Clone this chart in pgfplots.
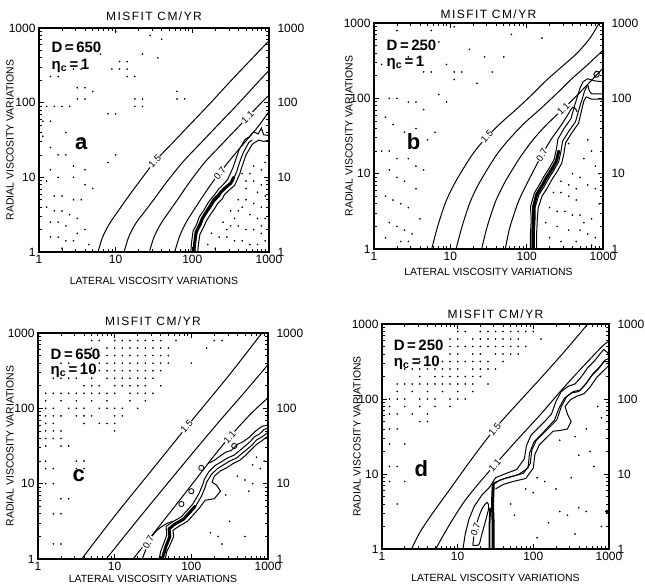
\documentclass[border=0pt]{standalone}
\usepackage{fontspec}
\setmainfont{Liberation Sans}
\newfontfamily\titlefont[LetterSpace=12]{Liberation Sans}
\usepackage{pgfplots}
\pgfplotsset{compat=1.18}

\pgfplotsset{
  ylab/.style={every axis y label/.style={at={(axis description cs:0,0.5)}, xshift=#1, rotate=90, anchor=center, font=\fontsize{10.4}{11}\selectfont}},
  xlab/.style={every axis x label/.style={at={(axis description cs:0.5,0)}, anchor=center, yshift=#1, font=\fontsize{10.4}{11}\selectfont}},
  tlab/.style={every axis title/.style={at={(axis description cs:0.5,1)}, anchor=center, yshift=#1, font=\fontsize{12}{12}\selectfont}},
  panel/.style={
    scale only axis, xmin=0, xmax=3, ymin=0, ymax=3,
    xtick={0,1,2,3}, ytick={0,1,2,3},
    xticklabels={1,10,100,1000}, yticklabels={1,10,100,1000},
    minor xtick={0.301,0.477,0.602,0.699,0.778,0.845,0.903,0.954,1.301,1.477,1.602,1.699,1.778,1.845,1.903,1.954,2.301,2.477,2.602,2.699,2.778,2.845,2.903,2.954},
    minor ytick={0.301,0.477,0.602,0.699,0.778,0.845,0.903,0.954,1.301,1.477,1.602,1.699,1.778,1.845,1.903,1.954,2.301,2.477,2.602,2.699,2.778,2.845,2.903,2.954},
    tick align=inside, xtick pos=both, ytick pos=both,
    major tick length=5pt, minor tick length=3pt,
    every tick/.style={black, line width=0.7pt},
    axis line style={line width=1.3pt},
    /pgf/number format/assume math mode=true,
    tick label style={font=\fontsize{12}{12}\selectfont},
    title={\titlefont MISFIT CM/YR},
    xlabel={LATERAL VISCOSITY VARIATIONS},
    ylabel={RADIAL VISCOSITY VARIATIONS},
    ylab=-29pt, xlab=-29pt, tlab=12pt,
  },
  rlab/.style={
    scale only axis, xmin=0, xmax=3, ymin=0, ymax=3,
    axis line style={draw=none}, xtick=\empty, ytick={0,1,2,3},
    yticklabels={1,10,100,1000}, yticklabel pos=right, major tick length=0pt,
    /pgf/number format/assume math mode=true,
    tick label style={font=\fontsize{12}{12}\selectfont},
    yticklabel style={xshift=5pt},
  },
  cl/.style={black, line width=1pt, smooth, tension=0.55},
  bl/.style={black, line width=1pt},
  thick bundle/.style={black, line width=3pt, line join=round, line cap=round},
  dots/.style={only marks, mark=*, mark size=0.6pt, black},
}
\tikzset{
  lab/.style={fill=white, inner sep=0.6pt, font=\fontsize{9.5}{10}\selectfont},
  dlab/.style={anchor=west, font=\bfseries\fontsize{15}{15}\selectfont},
  plab/.style={font=\bfseries\fontsize{22}{22}\selectfont},
}

\begin{document}
\begin{tikzpicture}[x=1pt,y=1pt]
\path[use as bounding box] (0,0) rectangle (645,587);

% ---------------- panel a : D=650, eta=1 ----------------
\begin{axis}[panel, at={(39pt,335pt)}, anchor=south west, width=230pt, height=224pt]
\addplot[dots] coordinates {(0.15,2.35)(0.25,2.35)(0.45,2.45)(0.55,2.45)(0.95,2.45)(1.05,2.45)(1.15,2.45)(1.05,2.55)(1.15,2.55)(1.25,2.35)(1.15,2.35)(1.55,2.6)(1.35,2.65)(1.6,2.85)(1.45,2.9)(0.5,2.2)(0.6,2.2)(0.7,2.15)(0.5,2.05)(0.6,2.05)(0.1,1.95)(0.2,1.95)(0.3,1.95)(0.4,1.95)(1.25,2.05)(1.35,2.05)(1.25,1.95)(1.35,1.95)(1.8,2.15)(1.8,2.05)(1.9,2.05)(0.9,1.85)(1.0,1.85)(0.05,1.75)(0.15,1.75)(0.05,1.55)(0.15,1.4)(0.25,1.3)(0.35,1.3)(0.45,1.15)(0.6,1.1)(0.15,1.1)(0.25,1.0)(0.1,0.95)(0.6,0.9)(0.7,0.85)(0.2,0.75)(0.3,0.75)(0.45,0.7)(0.55,0.7)(0.1,0.6)(0.2,0.55)(0.3,0.55)(0.4,0.5)(0.5,0.45)(0.15,0.4)(0.25,0.4)(0.35,0.35)(0.6,0.3)(0.5,0.25)(0.15,0.2)(0.25,0.2)(0.35,0.15)(0.45,0.15)(0.65,0.1)(0.9,1.2)(1.0,1.3)(0.35,2.75)(0.55,2.8)(1.0,2.95)(0.8,2.65)(0.35,1.6)(0.55,1.5)(0.45,1.0)(0.3,0.05)
(2.65,1.05)(2.75,1.05)(2.7,0.95)(2.8,0.95)(2.9,0.9)(2.7,0.85)(2.85,0.8)(2.95,0.75)(2.6,0.7)(2.7,0.7)(2.8,0.65)(2.9,0.6)(2.5,0.55)(2.6,0.55)(2.75,0.5)(2.85,0.45)(2.95,0.45)(2.4,0.4)(2.5,0.35)(2.6,0.35)(2.7,0.3)(2.8,0.3)(2.9,0.25)(2.25,0.25)(2.35,0.2)(2.45,0.2)(2.55,0.15)(2.65,0.15)(2.75,0.1)(2.85,0.1)(2.2,0.1)(2.95,0.15)(2.9,1.1)(2.95,1.2)(2.8,1.15)(2.65,0.6)(2.55,0.45)(2.45,0.3)(2.3,0.05)(2.9,0.35)};
% contour lines
\addplot[cl] coordinates {(0.77,0)(0.83,0.2)(0.92,0.38)(1.02,0.53)(1.15,0.72)(1.3,0.93)(1.51,1.21)(1.75,1.47)(2.0,1.74)(2.25,2.01)(2.5,2.29)(2.75,2.56)(3.0,2.83)};
\addplot[cl] coordinates {(1.11,0)(1.17,0.2)(1.26,0.38)(1.37,0.53)(1.51,0.72)(1.66,0.93)(1.88,1.21)(2.12,1.47)(2.37,1.74)(2.62,2.01)(2.87,2.29)(3.0,2.43)};
\addplot[cl] coordinates {(1.44,0)(1.5,0.2)(1.59,0.38)(1.69,0.53)(1.82,0.72)(1.96,0.93)(2.17,1.21)(2.41,1.47)(2.66,1.74)(2.91,2.01)(3.0,2.10)};
\addplot[cl] coordinates {(1.77,0)(1.83,0.2)(1.91,0.38)(2.0,0.53)(2.12,0.72)(2.26,0.93)(2.45,1.18)(2.66,1.44)(2.85,1.67)(3.0,1.88)};
% steep gradient band
\addplot[thick bundle] coordinates {(2.02,0)(2.03,0.12)(2.05,0.27)(2.1,0.37)(2.13,0.45)(2.19,0.55)(2.24,0.63)(2.28,0.7)(2.34,0.76)(2.37,0.8)(2.43,0.86)(2.5,0.92)(2.54,1.0)};
\addplot[bl] coordinates {(1.98,0)(1.99,0.13)(2.01,0.28)(2.06,0.38)(2.09,0.47)(2.15,0.56)(2.2,0.65)(2.25,0.72)(2.3,0.78)(2.34,0.84)(2.4,0.9)(2.46,0.97)(2.5,1.06)(2.53,1.13)(2.55,1.19)(2.58,1.28)(2.61,1.37)(2.65,1.44)(2.69,1.51)(2.74,1.54)};
\addplot[bl] coordinates {(2.03,0)(2.04,0.12)(2.06,0.26)(2.11,0.36)(2.14,0.44)(2.2,0.54)(2.25,0.61)(2.29,0.68)(2.35,0.74)(2.38,0.8)(2.44,0.86)(2.51,0.92)(2.55,1.01)(2.58,1.08)(2.6,1.15)(2.63,1.24)(2.66,1.32)(2.7,1.4)(2.74,1.47)(2.78,1.5)};
\addplot[bl] coordinates {(2.07,0)(2.08,0.11)(2.1,0.24)(2.15,0.34)(2.18,0.41)(2.24,0.51)(2.29,0.58)(2.33,0.65)(2.39,0.71)(2.42,0.77)(2.48,0.83)(2.55,0.89)(2.59,0.98)(2.62,1.05)(2.64,1.12)(2.67,1.21)(2.7,1.3)(2.74,1.37)(2.78,1.44)(2.82,1.47)};
\addplot[bl] coordinates {(2.74,1.54)(2.8,1.61)(2.86,1.58)(2.9,1.66)(2.93,1.57)(3.0,1.56)};
\addplot[bl] coordinates {(2.82,1.47)(2.87,1.5)(2.93,1.48)(3.0,1.5)};
\node[lab, rotate=46] at (axis cs:1.51,1.21) {1.5};
\node[lab, rotate=45] at (axis cs:2.72,1.80) {1.1};
\node[lab, rotate=52] at (axis cs:2.36,1.05) {0.7};
\node[dlab] at (axis cs:0.12,2.74) {D\,=\,650};
\node[dlab] at (axis cs:0.12,2.49) {η\textsubscript{c}\,=\,1};
\node[plab] at (axis cs:0.55,1.45) {a};
\end{axis}
\begin{axis}[rlab, at={(39pt,335pt)}, anchor=south west, width=230pt, height=224pt]
\end{axis}

% ---------------- panel b : D=250, eta=1 ----------------
\begin{axis}[panel, at={(374pt,338pt)}, anchor=south west, width=229pt, height=226pt,
  xlab=-23pt, tlab=9pt, ylab=-25pt]
\addplot[dots] coordinates {(0.3,2.9)(0.45,2.55)(0.6,2.65)(0.75,2.9)(0.85,2.75)(1.05,2.95)(0.95,2.45)(1.05,2.35)(1.15,2.35)(1.05,2.25)(1.35,2.2)(1.45,2.55)(1.7,2.55)(1.8,2.85)(2.2,2.8)(0.2,2.0)(0.3,2.0)(0.45,1.95)(0.55,1.95)(0.65,1.85)(0.85,2.05)(0.95,1.95)(0.15,1.75)(0.25,1.65)(0.4,1.55)(0.55,1.6)(0.7,1.45)(0.8,1.55)(0.1,1.3)(0.2,1.3)(0.3,1.2)(0.45,1.2)(0.55,1.1)(0.2,1.05)(0.3,0.95)(0.4,0.9)(0.55,0.8)(0.15,0.7)(0.25,0.65)(0.35,0.6)(0.45,0.55)(0.6,0.4)(0.2,0.35)(0.3,0.3)(0.4,0.25)(0.5,0.2)(0.15,0.15)(0.35,0.1)(0.45,0.1)(0.65,2.35)(0.75,2.35)(1.25,2.65)(1.55,2.35)(0.1,2.45)(0.65,1.05)
(2.55,1.4)(2.8,1.45)(2.85,1.3)(2.75,1.2)(2.9,1.1)(2.6,1.0)(2.7,0.95)(2.45,0.9)(2.55,0.85)(2.8,0.85)(2.9,0.8)(2.35,0.75)(2.45,0.75)(2.55,0.7)(2.65,0.65)(2.95,0.6)(2.3,0.55)(2.4,0.5)(2.5,0.5)(2.6,0.45)(2.85,0.4)(2.25,0.35)(2.4,0.3)(2.55,0.25)(2.7,0.25)(2.8,0.2)(2.9,0.15)(2.3,0.15)(2.45,0.1)(2.65,0.1)(2.85,0.05)(2.7,0.45)(2.75,0.35)(2.65,0.8)(2.95,1.0)};
\addplot[cl] coordinates {(0.756,0)(0.82,0.25)(0.88,0.45)(0.95,0.65)(1.04,0.84)(1.13,1.0)(1.3,1.27)(1.48,1.49)(1.67,1.68)(1.87,1.86)(2.07,2.05)(2.26,2.24)(2.46,2.42)(2.66,2.6)(2.83,2.8)(2.95,3.0)};
\addplot[cl] coordinates {(1.075,0)(1.14,0.25)(1.2,0.45)(1.27,0.65)(1.36,0.84)(1.45,1.0)(1.62,1.27)(1.8,1.49)(1.98,1.68)(2.18,1.86)(2.38,2.05)(2.57,2.24)(2.77,2.42)(2.96,2.6)(3.0,2.64)};
\addplot[cl] coordinates {(1.41,0)(1.47,0.25)(1.53,0.45)(1.6,0.65)(1.69,0.84)(1.78,1.0)(1.93,1.24)(2.1,1.47)(2.28,1.67)(2.48,1.86)(2.67,2.05)(2.85,2.24)(3.0,2.4)};
\addplot[cl] coordinates {(1.72,0)(1.77,0.25)(1.83,0.45)(1.9,0.65)(1.99,0.84)(2.07,1.0)(2.2,1.25)(2.33,1.47)(2.45,1.64)(2.55,1.8)(2.6,1.88)(2.64,1.86)(2.66,1.82)};
\addplot[thick bundle] coordinates {(2.08,0)(2.08,0.2)(2.09,0.4)(2.09,0.56)(2.13,0.72)(2.2,0.84)(2.26,0.95)(2.33,1.06)(2.39,1.17)(2.42,1.3)};
\addplot[bl] coordinates {(2.05,0)(2.05,0.2)(2.06,0.4)(2.05,0.56)(2.1,0.74)(2.17,0.86)(2.23,0.97)(2.3,1.08)(2.36,1.19)(2.39,1.33)(2.41,1.46)(2.49,1.6)(2.58,1.73)(2.63,1.91)(2.67,2.04)(2.7,2.14)(2.74,2.22)};
\addplot[bl] coordinates {(2.1,0)(2.1,0.2)(2.11,0.4)(2.11,0.55)(2.16,0.72)(2.23,0.83)(2.29,0.94)(2.36,1.05)(2.42,1.16)(2.45,1.3)(2.47,1.43)(2.55,1.56)(2.64,1.69)(2.69,1.87)(2.73,2.0)(2.76,2.1)(2.8,2.18)};
\addplot[bl] coordinates {(2.13,0)(2.13,0.2)(2.14,0.4)(2.15,0.54)(2.2,0.7)(2.27,0.81)(2.33,0.92)(2.4,1.03)(2.46,1.14)(2.49,1.28)(2.51,1.41)(2.59,1.54)(2.68,1.67)(2.72,1.84)(2.75,1.97)(2.78,2.02)};
\addplot[bl] coordinates {(2.74,2.22)(2.8,2.26)(2.9,2.23)(3.0,2.22)};
\addplot[bl] coordinates {(2.78,2.02)(2.85,1.99)(3.0,1.99)};
\addplot[bl] coordinates {(2.8,2.18)(2.82,2.1)(2.85,2.06)(3.0,2.06)};
\addplot[bl, smooth] coordinates {(2.88,2.32)(2.91,2.36)(2.95,2.34)(2.94,2.29)(2.9,2.28)(2.88,2.32)};
\node[lab, rotate=47] at (axis cs:1.48,1.49) {1.5};
\node[lab, rotate=44] at (axis cs:2.48,1.86) {1.1};
\node[lab, rotate=60] at (axis cs:2.2,1.25) {0.7};
\node[dlab] at (axis cs:0.12,2.71) {D\,=\,250};
\node[dlab] at (axis cs:0.12,2.47) {η\textsubscript{c}\,=\,1};
\node[plab] at (axis cs:0.52,1.43) {b};
\end{axis}
\begin{axis}[rlab, at={(374pt,338pt)}, anchor=south west, width=229pt, height=226pt]
\end{axis}

% ---------------- panel c : D=650, eta=10 ----------------
\begin{axis}[panel, at={(38pt,28pt)}, anchor=south west, width=230pt, height=226pt,
  xlab=-20pt, ylab=-28pt]
\addplot[dots] coordinates {(0.7,2.9)(0.8,2.9)(1.0,2.9)(1.1,2.9)(1.2,2.9)(1.3,2.9)(1.4,2.9)(1.5,2.9)(1.6,2.9)(1.8,2.9)(2.3,2.9)(2.4,2.9)
(0.7,2.8)(0.9,2.8)(1.0,2.8)(1.1,2.8)(1.2,2.8)(1.3,2.8)(1.4,2.8)(1.5,2.8)(1.6,2.8)(1.7,2.8)(2.2,2.8)
(0.7,2.7)(0.8,2.7)(0.9,2.7)(1.0,2.7)(1.1,2.7)(1.2,2.7)(1.3,2.7)(1.4,2.7)(1.5,2.7)(1.6,2.7)(1.7,2.7)
(0.3,2.6)(0.4,2.6)(0.6,2.6)(0.8,2.6)(0.9,2.6)(1.0,2.6)(1.1,2.6)(1.2,2.6)(1.3,2.6)(1.4,2.6)(1.5,2.6)(1.6,2.6)(1.7,2.6)(2.0,2.6)
(0.6,2.5)(0.7,2.5)(0.8,2.5)(0.9,2.5)(1.0,2.5)(1.1,2.5)(1.2,2.5)(1.3,2.5)(1.4,2.5)(1.5,2.5)(1.6,2.5)
(0.2,2.4)(0.3,2.4)(0.4,2.4)(0.5,2.4)(0.7,2.4)(0.9,2.4)(1.0,2.4)(1.1,2.4)(1.2,2.4)(1.3,2.4)(1.4,2.4)(1.5,2.4)
(0.6,2.3)(0.7,2.3)(0.8,2.3)(1.0,2.3)(1.1,2.3)(1.2,2.3)(1.3,2.3)(1.4,2.3)(1.6,2.3)
(0.1,2.2)(0.2,2.2)(0.3,2.2)(0.4,2.2)(0.5,2.2)(0.6,2.2)(0.7,2.2)(0.8,2.2)(0.9,2.2)(1.0,2.2)(1.2,2.2)(1.3,2.2)(1.4,2.2)(1.5,2.2)
(0.1,2.1)(0.3,2.1)(0.5,2.1)(0.7,2.1)(0.9,2.1)(1.2,2.1)(1.4,2.1)
(0.1,2.0)(0.2,2.0)(0.4,2.0)(0.5,2.0)(0.6,2.0)(0.8,2.0)(0.9,2.0)(1.0,2.0)(1.1,2.0)(1.3,2.0)
(0.1,1.9)(0.2,1.9)(0.3,1.9)(0.5,1.9)(0.6,1.9)(0.7,1.9)(1.0,1.9)(1.1,1.9)
(0.1,1.8)(0.2,1.8)(0.6,1.8)(0.8,1.8)(0.9,1.8)(1.0,1.8)
(0.1,1.7)(0.2,1.7)(0.3,1.7)(1.0,1.7)(0.1,1.6)(0.2,1.6)(0.3,1.6)(0.1,1.5)(0.3,1.5)(0.4,1.5)
(0.1,1.3)(0.5,1.3)(0.6,1.3)(0.1,1.2)(0.2,1.2)(0.5,1.2)(0.6,1.2)(0.1,1.0)(0.2,1.0)(0.3,0.8)(0.4,0.8)(0.2,0.6)(0.3,0.6)(0.2,0.2)(0.3,0.2)
(2.6,1.1)(2.7,1.05)(2.8,1.0)(2.75,0.9)(2.9,1.2)(2.95,1.3)(2.85,1.35)(2.45,0.85)(2.5,0.5)(2.25,0.35)(2.35,0.3)(2.7,0.3)(2.4,0.2)(2.8,1.25)};
\addplot[cl] coordinates {(0.57,0)(1.0,0.57)(1.5,1.2)(2.0,1.83)(2.5,2.45)(2.92,3.0)};
\addplot[cl] coordinates {(0.89,0)(1.3,0.52)(1.8,1.14)(2.3,1.75)(2.7,2.22)(3.0,2.58)};
\addplot[cl] coordinates {(1.24,0)(1.6,0.46)(2.0,0.98)(2.4,1.5)(2.75,1.9)(3.0,2.14)};
\addplot[cl] coordinates {(1.36,0)(1.42,0.16)(1.5,0.32)(1.6,0.42)(1.7,0.48)(1.76,0.5)};
\addplot[thick bundle] coordinates {(1.62,0)(1.65,0.1)(1.67,0.17)(1.72,0.3)(1.71,0.4)(1.78,0.46)(1.9,0.53)(1.97,0.61)(2.05,0.7)};
\addplot[bl] coordinates {(1.61,0)(1.64,0.1)(1.66,0.16)(1.72,0.3)(1.7,0.4)(1.78,0.45)(1.9,0.52)(1.97,0.6)(2.05,0.69)(2.13,0.83)(2.18,0.95)(2.2,1.02)(2.26,1.12)(2.34,1.2)(2.42,1.25)(2.5,1.3)(2.59,1.34)(2.66,1.4)(2.72,1.45)(2.8,1.52)(2.85,1.58)(2.92,1.62)(3.0,1.68)};
\addplot[bl] coordinates {(1.66,0)(1.68,0.1)(1.71,0.16)(1.77,0.3)(1.76,0.38)(1.83,0.43)(1.95,0.5)(2.02,0.58)(2.1,0.67)(2.18,0.78)(2.3,0.8)(2.38,0.9)(2.33,0.98)(2.27,1.02)(2.3,1.1)(2.38,1.17)(2.46,1.21)(2.55,1.27)(2.63,1.31)(2.7,1.37)(2.77,1.44)(2.85,1.52)(2.92,1.57)(3.0,1.63)};
\addplot[bl] coordinates {(1.58,0)(1.6,0.1)(1.63,0.18)(1.68,0.32)(1.67,0.43)(1.75,0.49)(1.87,0.56)(1.94,0.64)(2.02,0.73)(2.1,0.87)(2.15,0.99)(2.17,1.06)(2.23,1.16)(2.31,1.24)(2.39,1.29)(2.47,1.34)(2.56,1.38)(2.63,1.44)(2.69,1.49)(2.77,1.56)(2.82,1.62)(2.89,1.66)(2.95,1.72)(3.0,1.74)};
\addplot[bl] coordinates {(2.22,1.27)(2.3,1.31)(2.38,1.37)(2.45,1.42)(2.52,1.44)(2.6,1.52)(2.68,1.56)(2.76,1.62)(2.84,1.7)(2.92,1.76)(3.0,1.78)};
\addplot[only marks, mark=o, mark size=2.6pt, mark options={line width=0.8pt}, black] coordinates {(1.87,0.73)(2.0,0.9)(2.13,1.21)(2.56,1.5)};
\node[lab, rotate=47] at (axis cs:1.94,1.76) {1.5};
\node[lab, rotate=47] at (axis cs:2.5,1.62) {1.1};
\node[lab, rotate=62] at (axis cs:1.44,0.22) {0.7};
\node[dlab] at (axis cs:0.12,2.72) {D\,=\,650};
\node[dlab] at (axis cs:0.12,2.5) {η\textsubscript{c}\,=\,10};
\node[plab] at (axis cs:0.53,1.1) {c};
\end{axis}
\begin{axis}[rlab, at={(38pt,28pt)}, anchor=south west, width=230pt, height=226pt]
\end{axis}

% ---------------- panel d : D=250, eta=10 ----------------
\begin{axis}[panel, at={(382pt,38pt)}, anchor=south west, width=227pt, height=225pt,
  tlab=10pt, ylab=-25pt]
\addplot[dots] coordinates {(1.0,2.9)(1.1,2.9)(1.3,2.9)(1.4,2.9)(1.5,2.9)(1.6,2.9)(1.7,2.9)(1.8,2.9)(1.9,2.9)(2.0,2.9)
(0.9,2.8)(1.0,2.8)(1.2,2.8)(1.3,2.8)(1.4,2.8)(1.5,2.8)(1.6,2.8)(1.7,2.8)(1.8,2.8)(2.1,2.8)
(0.9,2.7)(1.0,2.7)(1.1,2.7)(1.2,2.7)(1.3,2.7)(1.4,2.7)(1.5,2.7)(1.6,2.7)(1.7,2.7)(1.8,2.7)(1.9,2.7)
(0.9,2.6)(1.0,2.6)(1.2,2.6)(1.3,2.6)(1.5,2.6)(1.6,2.6)(1.7,2.6)(1.8,2.6)
(0.5,2.5)(0.6,2.5)(0.8,2.5)(0.9,2.5)(1.0,2.5)(1.1,2.5)(1.2,2.5)(1.3,2.5)(1.4,2.5)(1.6,2.5)
(0.3,2.4)(0.4,2.4)(0.5,2.4)(0.6,2.4)(0.7,2.4)(0.8,2.4)(0.9,2.4)(1.0,2.4)(1.2,2.4)(1.3,2.4)(1.4,2.4)(1.5,2.4)
(0.5,2.3)(0.7,2.3)(0.8,2.3)(0.9,2.3)(1.0,2.3)(1.1,2.3)(1.2,2.3)(1.3,2.3)
(0.2,2.2)(0.3,2.2)(0.4,2.2)(0.5,2.2)(0.6,2.2)(0.7,2.2)(0.8,2.2)(0.9,2.2)(1.0,2.2)(1.1,2.2)(1.2,2.2)(1.4,2.2)
(0.2,2.1)(0.4,2.1)(0.6,2.1)(0.8,2.1)(1.0,2.1)(1.2,2.1)
(0.1,2.0)(0.2,2.0)(0.3,2.0)(0.5,2.0)(0.6,2.0)(0.7,2.0)(0.9,2.0)(1.0,2.0)(1.1,2.0)
(0.1,1.9)(0.3,1.9)(0.5,1.9)(0.7,1.9)(0.9,1.9)(0.1,1.8)(0.2,1.8)(0.4,1.8)(0.6,1.8)(0.5,1.7)(0.6,1.7)
(0.1,1.6)(0.2,1.6)(0.1,1.4)(0.3,1.4)(0.1,1.1)(0.2,1.1)(0.1,0.9)(0.3,0.9)(0.2,0.6)
(2.35,1.45)(2.55,1.5)(2.7,1.6)(2.85,1.9)(2.9,1.75)(2.6,1.25)(2.75,1.3)(2.05,0.95)(2.15,0.9)(1.9,0.8)(2.0,0.75)(2.3,0.8)(2.5,0.95)(2.8,1.1)(2.35,0.5)(2.45,0.45)(2.6,0.55)(2.7,0.5)(2.2,0.35)(2.9,0.3)(2.05,0.15)(2.55,0.2)(1.7,0.6)(1.75,0.45)};
\addplot[only marks, mark=*, mark size=1.6pt, black] coordinates {(2.97,0.5)};
\addplot[cl] coordinates {(0.39,0)(0.5,0.22)(0.65,0.45)(0.9,0.8)(1.2,1.22)(1.49,1.6)(1.8,1.95)(2.1,2.28)(2.4,2.62)(2.72,3.0)};
\addplot[cl] coordinates {(0.71,0)(0.82,0.2)(0.95,0.42)(1.1,0.65)(1.3,0.9)(1.49,1.12)(1.8,1.47)(2.1,1.8)(2.4,2.15)(2.7,2.48)(2.92,2.71)(3.0,2.77)};
\addplot[bl] coordinates {(1.07,0)(1.1,0.2)(1.15,0.4)(1.22,0.57)(1.32,0.72)(1.42,0.82)(1.5,0.95)(1.62,1.0)(1.78,1.06)(1.88,1.2)(1.91,1.38)(1.97,1.52)(2.06,1.61)(2.15,1.7)(2.24,1.8)(2.3,1.97)(2.37,2.1)(2.46,2.17)(2.55,2.2)(2.63,2.29)(2.72,2.42)(2.81,2.51)(2.88,2.6)(2.93,2.66)(2.98,2.62)(3.0,2.58)};
\addplot[bl, smooth] coordinates {(1.2,0.05)(1.22,0.2)(1.27,0.4)(1.33,0.55)(1.39,0.62)(1.41,0.55)(1.37,0.38)(1.32,0.2)(1.28,0.06)(1.2,0.05)};
\addplot[thick bundle] coordinates {(1.47,0)(1.47,0.3)(1.46,0.6)(1.47,0.86)};
\addplot[black, line width=1.8pt] coordinates {(1.42,0)(1.42,0.3)(1.43,0.55)};
\addplot[bl] coordinates {(1.47,0.86)(1.56,0.92)(1.69,0.96)(1.87,1.01)(1.96,1.14)(1.98,1.32)(2.04,1.45)(2.13,1.54)(2.22,1.63)(2.31,1.72)(2.37,1.9)(2.44,2.03)(2.53,2.1)(2.62,2.12)(2.70,2.21)(2.79,2.34)(2.88,2.43)(2.95,2.52)(3.0,2.54)};
\addplot[bl] coordinates {(1.5,0.8)(1.6,0.86)(1.73,0.9)(1.9,0.94)(2.0,1.08)(2.02,1.26)(2.08,1.39)(2.17,1.48)(2.26,1.57)(2.35,1.58)(2.45,1.6)(2.5,1.7)(2.45,1.8)(2.42,1.9)(2.49,1.99)(2.58,2.04)(2.67,2.07)(2.75,2.16)(2.84,2.29)(2.92,2.37)(3.0,2.45)};
\addplot[bl] coordinates {(1.47,0.88)(1.52,0.9)(1.62,0.94)(1.8,0.99)(1.93,1.08)(1.95,1.28)(2.01,1.43)(2.1,1.52)(2.19,1.62)(2.28,1.72)(2.34,1.88)(2.41,2.01)(2.5,2.08)(2.6,2.1)(2.68,2.18)(2.77,2.31)(2.86,2.4)(2.93,2.5)(3.0,2.5)};
\node[lab, rotate=50] at (axis cs:1.49,1.6) {1.5};
\node[lab, rotate=49] at (axis cs:1.49,1.12) {1.1};
\node[lab, rotate=70] at (axis cs:1.235,0.26) {0.7};
\node[dlab] at (axis cs:0.11,2.71) {D\,=\,250};
\node[dlab] at (axis cs:0.11,2.48) {η\textsubscript{c}\,=\,10};
\node[plab] at (axis cs:0.52,1.07) {d};
\end{axis}
\begin{axis}[rlab, at={(382pt,38pt)}, anchor=south west, width=227pt, height=225pt]
\end{axis}
\end{tikzpicture}
\end{document}
